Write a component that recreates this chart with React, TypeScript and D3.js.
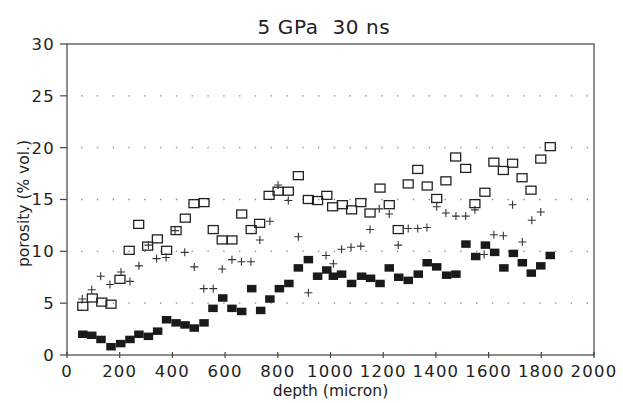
import React from 'react';
import * as d3 from 'd3';

const title = '5 GPa\u00a0\u00a030 ns';
const xLabel = 'depth (micron)';
const yLabel = 'porosity (% vol.)';

const xTicks = [0, 200, 400, 600, 800, 1000, 1200, 1400, 1600, 1800, 2000];
const yTicks = [0, 5, 10, 15, 20, 25, 30];
const gridLevels = [5, 10, 15, 20, 25];

// open squares
const openDepth = [60, 96, 132, 167, 201, 236, 272, 306, 343, 378, 414, 449, 482, 520, 555, 589, 626, 663, 699, 731,
  767, 801, 840, 878, 916, 951, 986, 1008, 1045, 1080, 1115, 1150, 1188, 1223, 1257, 1295, 1331, 1367, 1403, 1438,
  1475, 1513, 1548, 1586, 1620, 1656, 1691, 1727, 1761, 1798, 1834];
const openPorosity = [4.7, 5.5, 5.1, 4.9, 7.3, 10.1, 12.6, 10.5, 11.2, 10.1, 12.0, 13.2, 14.6, 14.7, 12.1, 11.1, 11.1, 13.6, 12.1, 12.7,
  15.4, 15.8, 15.8, 17.3, 15.0, 14.9, 15.4, 14.3, 14.5, 14.0, 14.7, 13.7, 16.1, 14.5, 12.1, 16.5, 17.9, 16.3, 15.1, 16.8,
  19.1, 18.0, 14.6, 15.7, 18.6, 17.8, 18.5, 17.1, 15.9, 18.9, 20.1];

// plus signs
const plusDepth = [58, 94, 128, 163, 205, 239, 273, 309, 340, 376, 410, 447, 483, 519, 555, 589, 626, 662, 698, 732,
  770, 801, 840, 878, 916, 983, 1011, 1042, 1078, 1115, 1150, 1185, 1223, 1257, 1295, 1331, 1366, 1403, 1438, 1476,
  1513, 1548, 1583, 1620, 1656, 1691, 1728, 1764, 1798];
const plusPorosity = [5.4, 6.3, 7.6, 6.8, 8.0, 7.1, 8.6, 10.6, 9.3, 9.4, 12.0, 9.9, 8.5, 6.4, 6.4, 8.3, 9.2, 9.0, 9.0, 11.1,
  12.9, 16.4, 14.9, 11.4, 6.0, 9.6, 8.8, 10.2, 10.4, 10.5, 12.1, 14.1, 13.6, 10.6, 12.2, 12.2, 12.3, 14.3, 13.7, 13.4,
  13.4, 14.0, 9.7, 11.6, 11.5, 14.5, 10.9, 13.0, 13.8];

// filled squares
const filledDepth = [60, 94, 129, 167, 204, 239, 273, 309, 344, 378, 414, 448, 483, 520, 554, 591, 626, 663, 701, 735,
  770, 806, 842, 878, 916, 951, 986, 1011, 1042, 1080, 1118, 1152, 1188, 1223, 1259, 1295, 1333, 1367, 1403, 1441,
  1476, 1514, 1551, 1588, 1623, 1658, 1694, 1728, 1762, 1798, 1834];
const filledPorosity = [2.0, 1.9, 1.5, 0.8, 1.1, 1.5, 2.0, 1.8, 2.3, 3.4, 3.1, 2.9, 2.6, 3.1, 4.5, 5.5, 4.5, 4.2, 6.4, 4.3,
  5.4, 6.4, 6.9, 8.4, 9.2, 7.6, 8.2, 7.6, 7.8, 6.9, 7.6, 7.4, 6.9, 8.4, 7.5, 7.2, 7.8, 8.9, 8.5, 7.7,
  7.8, 10.7, 9.5, 10.6, 9.9, 8.4, 9.8, 8.9, 7.9, 8.6, 9.6];

const W = 623;
const H = 403;
const left = 67;
const right = 594;
const top = 44;
const bottom = 355;

const font = '"DejaVu Sans", sans-serif';
const ink = '#222';

export default function App() {
  const x = d3.scaleLinear().domain([0, 2000]).range([left, right]);
  const y = d3.scaleLinear().domain([0, 30]).range([bottom, top]);

  const open = d3.zip(openDepth, openPorosity);
  const plus = d3.zip(plusDepth, plusPorosity);
  const filled = d3.zip(filledDepth, filledPorosity);

  return (
    <svg width={W} height={H} style={{ position: 'absolute', left: 0, top: 0, background: '#fff' }}>
      <text x={324} y={34} fontFamily={font} fontSize={20} textAnchor="middle" fill={ink} letterSpacing={0.6}>{title}</text>

      {/* dotted grid */}
      {gridLevels.map((v) => (
        <line key={v} x1={left + 14} x2={right} y1={y(v)} y2={y(v)}
          stroke="#888" strokeWidth={1.4} strokeDasharray="1.4 14.4" />
      ))}

      {/* frame */}
      <rect x={left} y={top} width={right - left} height={bottom - top} fill="none" stroke="#444" strokeWidth={1.2} />

      {/* y axis */}
      {yTicks.map((t) => (
        <g key={t}>
          <line x1={left - 7} x2={left} y1={y(t)} y2={y(t)} stroke="#444" strokeWidth={1.2} />
          <text x={left - 12} y={y(t)} dy="0.36em" textAnchor="end" fontFamily={font} fontSize={16.5}
            letterSpacing={1.2} fill={ink}>{t}</text>
        </g>
      ))}

      {/* x axis */}
      {xTicks.map((t) => (
        <g key={t}>
          <line x1={x(t)} x2={x(t)} y1={bottom - 3} y2={bottom + 3} stroke="#444" strokeWidth={1.2} />
          <text x={x(t)} y={377} textAnchor="middle" fontFamily={font} fontSize={16.5}
            letterSpacing={1.2} fill={ink}>{t}</text>
        </g>
      ))}

      <text x={(left + right) / 2} y={396} textAnchor="middle" fontFamily={font} fontSize={15.5} fill={ink}>{xLabel}</text>
      <text transform={`translate(29,${(top + bottom) / 2 + 4}) rotate(-90)`} textAnchor="middle"
        fontFamily={font} fontSize={15.5} fill={ink}>{yLabel}</text>

      {/* plus signs */}
      {plus.map(([d, p], i) => (
        <path key={'p' + i}
          d={`M${x(d) - 4},${y(p)}h8M${x(d)},${y(p) - 4}v8`}
          stroke="#333" strokeWidth={1.1} fill="none" />
      ))}

      {/* open squares */}
      {open.map(([d, p], i) => (
        <rect key={'o' + i} x={x(d) - 5} y={y(p) - 4} width={10} height={8}
          fill="none" stroke="#222" strokeWidth={1.3} />
      ))}

      {/* filled squares */}
      {filled.map(([d, p], i) => (
        <rect key={'f' + i} x={x(d) - 4.75} y={y(p) - 3.75} width={9.5} height={7.5} fill="#1a1a1a" />
      ))}
    </svg>
  );
}
